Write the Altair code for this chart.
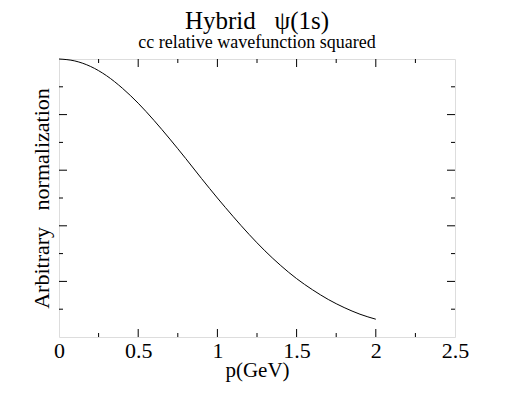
import altair as alt
import pandas as pd

# curve
p_vals = [0.0, 0.1, 0.2, 0.3, 0.4, 0.5, 0.6, 0.7, 0.8, 0.9, 1.0,
          1.1, 1.2, 1.3, 1.4, 1.5, 1.6, 1.7, 1.8, 1.9, 2.0]
psi2 = [1.000, 0.993, 0.973, 0.940, 0.895, 0.841, 0.779, 0.712, 0.642, 0.570, 0.500,
        0.433, 0.369, 0.310, 0.257, 0.210, 0.170, 0.135, 0.106, 0.082, 0.064]

x_labels = [0, 0.5, 1, 1.5, 2, 2.5]
x_major = [0.5, 1.0, 1.5, 2.0]
x_minor = [0.25, 0.75, 1.25, 1.75, 2.25]
y_major = [0.2, 0.4, 0.6, 0.8]
y_minor = [0.1, 0.3, 0.5, 0.7, 0.9]

W, H = 396, 278
FONT = "Liberation Serif"
MAJ, MIN = 8, 4

xs = alt.Scale(domain=[0, 2.5], nice=False, zero=False)
ys = alt.Scale(domain=[0, 1], nice=False, zero=False)

xaxis = alt.Axis(values=x_labels, format="~g", ticks=False, domain=False, grid=False,
                 labelFont=FONT, labelFontSize=22, labelColor="black", labelPadding=3,
                 labelFlush=False, labelOverlap=False,
                 title="p(GeV)", titleFont=FONT, titleFontSize=21, titleFontWeight="normal",
                 titleColor="black", titlePadding=-2)
yaxis = alt.Axis(labels=False, ticks=False, domain=False, grid=False,
                 title="Arbitrary\u00a0\u00a0\u00a0normalization", titleFont=FONT,
                 titleFontSize=22, titleFontWeight="normal", titleColor="black",
                 titlePadding=6)

df = pd.DataFrame({"p": p_vals, "v": psi2})

line = alt.Chart(df).mark_line(color="black", strokeWidth=1, interpolate="monotone").encode(
    x=alt.X("p:Q", scale=xs, axis=xaxis),
    y=alt.Y("v:Q", scale=ys, axis=yaxis),
)


def xticks(vals, length):
    d = pd.DataFrame({"p": vals})
    bot = alt.Chart(d).mark_rule(color="black", strokeWidth=1).encode(
        x=alt.X("p:Q", scale=xs, axis=xaxis), y=alt.value(H), y2=alt.value(H - length))
    top = alt.Chart(d).mark_rule(color="black", strokeWidth=1).encode(
        x=alt.X("p:Q", scale=xs, axis=xaxis), y=alt.value(0), y2=alt.value(length))
    return [bot, top]


def yticks(vals, length):
    d = pd.DataFrame({"v": vals})
    left = alt.Chart(d).mark_rule(color="black", strokeWidth=1).encode(
        y=alt.Y("v:Q", scale=ys, axis=yaxis), x=alt.value(0), x2=alt.value(length))
    right = alt.Chart(d).mark_rule(color="black", strokeWidth=1).encode(
        y=alt.Y("v:Q", scale=ys, axis=yaxis), x=alt.value(W), x2=alt.value(W - length))
    return [left, right]


layers = [line] + xticks(x_major, MAJ) + xticks(x_minor, MIN) + yticks(y_major, MAJ) + yticks(y_minor, MIN)

chart = alt.layer(*layers).properties(
    width=W, height=H,
    autosize=alt.AutoSizeParams(type="none"),
    padding={"left": 51, "top": 51, "right": 49, "bottom": 51},
    title=alt.TitleParams(
        text="Hybrid\u00a0\u00a0\u00a0ψ(1s)",
        subtitle="cc relative wavefunction squared",
        font=FONT, fontSize=25, fontWeight="normal", color="black",
        subtitleFont=FONT, subtitleFontSize=18, subtitleColor="black",
        subtitlePadding=0, anchor="middle", offset=5,
    ),
).configure_view(stroke="black", strokeWidth=1).configure_title(
    font=FONT, subtitleFont=FONT, color="black", subtitleColor="black"
).configure(background="white")

chart.save("out.html", embed_options={"renderer": "svg", "actions": False})
